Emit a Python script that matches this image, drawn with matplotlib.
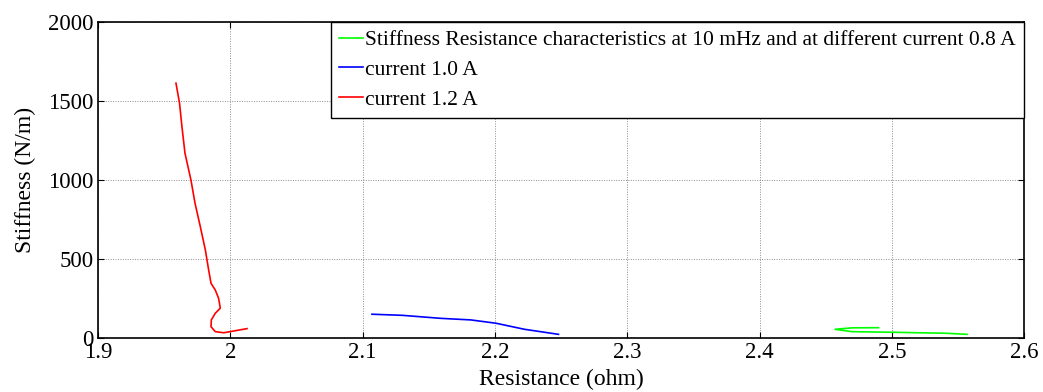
import matplotlib
matplotlib.use("Agg")
import matplotlib.pyplot as plt

# Stiffness vs. resistance curves at 10 mHz for three drive currents
res_08 = [2.4899, 2.4700, 2.4570, 2.4697, 2.4850, 2.5013, 2.5200, 2.5404, 2.5568]
stf_08 = [67, 66, 57, 42, 40, 38, 35, 32, 25]

res_10 = [2.1070, 2.1300, 2.1590, 2.1818, 2.2008, 2.2222, 2.2480]
stf_10 = [152, 145, 126, 116, 95, 57, 25]

res_12 = [1.9589, 1.9616, 1.9634, 1.9657, 1.9702, 1.9733, 1.9773, 1.9811,
          1.9836, 1.9854, 1.9886, 1.9911, 1.9924, 1.9886, 1.9856, 1.9854,
          1.9886, 1.9950, 2.0025, 2.0126]
stf_12 = [1611, 1484, 1337, 1169, 1000, 853, 705, 558,
          431, 347, 305, 253, 190, 158, 116, 73,
          42, 35, 46, 61]

x_ticks = [1.9, 2.0, 2.1, 2.2, 2.3, 2.4, 2.5, 2.6]
x_tick_labels = ["1.9", "2", "2.1", "2.2", "2.3", "2.4", "2.5", "2.6"]
y_ticks = [0, 500, 1000, 1500, 2000]

plt.rcParams["font.family"] = ["Liberation Serif", "DejaVu Serif"]

fig = plt.figure(figsize=(10.43, 3.92), dpi=100)
ax = fig.add_axes([0.094, 0.137, 0.888, 0.808])

ax.plot(res_08, stf_08, color="#00ff00", lw=1.2,
        label="Stiffness Resistance characteristics at 10 mHz and at different current 0.8 A")
ax.plot(res_10, stf_10, color="#0000ff", lw=1.2, label="current 1.0 A")
ax.plot(res_12, stf_12, color="#ff0000", lw=1.2, label="current 1.2 A")

ax.set_xlim(1.9, 2.6)
ax.set_ylim(0, 2000)
ax.set_xticks(x_ticks)
ax.set_xticklabels(x_tick_labels)
ax.set_yticks(y_ticks)
ax.tick_params(direction="in", top=True, right=True, length=4, width=0.8,
               labelsize=16.5, pad=3)
ax.grid(True, color="0.55", linestyle=(0, (1, 1.5)), linewidth=0.7)
for s in ax.spines.values():
    s.set_linewidth(1.2)

ax.set_xlabel("Resistance (ohm)", fontsize=17, labelpad=4)
ax.set_ylabel("Stiffness (N/m)", fontsize=17, labelpad=9)

leg = ax.legend(loc="upper right", borderaxespad=0, fontsize=15.5,
                handlelength=1.1, handletextpad=0.1, labelspacing=0.45,
                fancybox=False, framealpha=1, edgecolor="black",
                borderpad=0.4)
leg.get_frame().set_linewidth(1.0)

fig.savefig("out.png", dpi=100)
